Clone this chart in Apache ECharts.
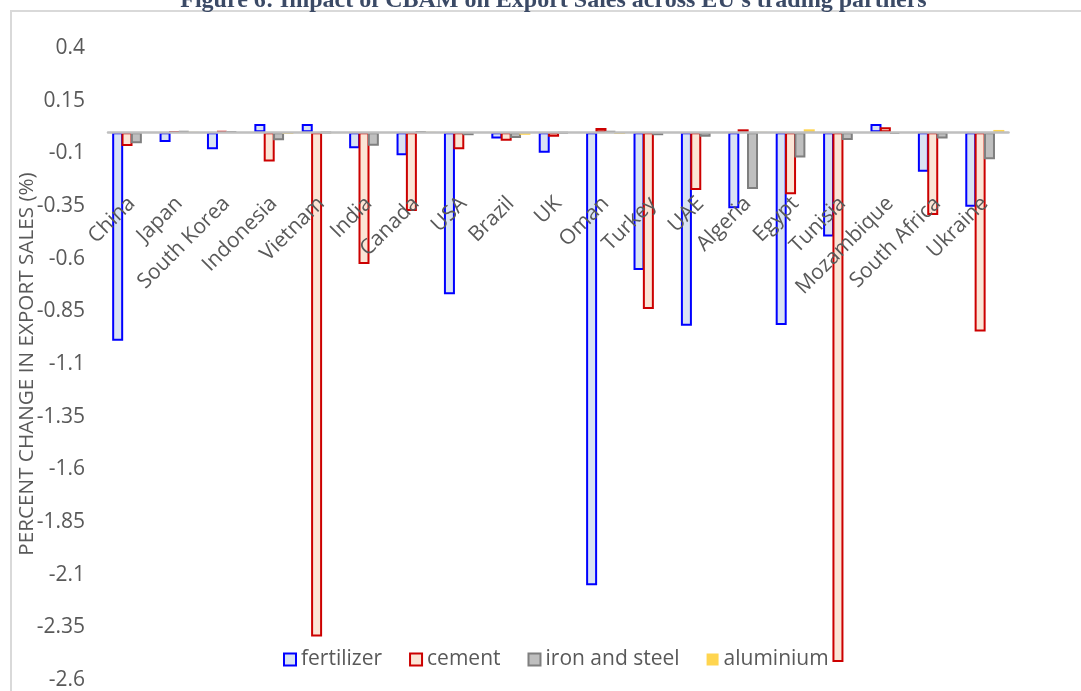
<!DOCTYPE html>
<html>
<head>
<meta charset="utf-8">
<script src="https://cdn.jsdelivr.net/npm/echarts@6/dist/echarts.min.js"></script>
<style>
html,body{margin:0;padding:0;background:#ffffff;}
#chart{width:1081px;height:691px;}
</style>
</head>
<body>
<div id="chart"></div>
<script>
// ---- data ----
const categories = ['China','Japan','South Korea','Indonesia','Vietnam','India','Canada','USA','Brazil','UK','Oman','Turkey','UAE','Algeria','Egypt','Tunisia','Mozambique','South Africa','Ukraine'];
const seriesNames = ['fertilizer','cement','iron and steel','aluminium'];
const fertilizer = [-0.99, -0.046, -0.081, 0.039, 0.039, -0.076, -0.109, -0.769, -0.03, -0.097, -2.15, -0.654, -0.919, -0.361, -0.915, -0.495, 0.039, -0.187, -0.353];
const cement = [-0.065, 0.002, 0.006, -0.139, -2.394, -0.625, -0.374, -0.081, -0.04, -0.021, 0.02, -0.839, -0.274, 0.014, -0.294, -2.514, 0.024, -0.393, -0.946];
const ironSteel = [-0.052, 0.005, 0.003, -0.038, -0.002, -0.064, 0.003, -0.014, -0.027, -0.004, 0.004, -0.014, -0.021, -0.269, -0.12, -0.037, -0.008, -0.029, -0.128];
const aluminium = [-0.003, 0.002, 0.001, -0.008, -0.004, -0.002, 0.002, -0.002, -0.012, -0.002, -0.008, -0.002, -0.002, 0.002, 0.014, -0.002, -0.002, -0.002, 0.011];
const yTickLabels = ['0.4','0.15','-0.1','-0.35','-0.6','-0.85','-1.1','-1.35','-1.6','-1.85','-2.1','-2.35','-2.6'];
const yMin = -2.6, yMax = 0.4, yStep = 0.25;
const titleText = "Figure 6: Impact of CBAM on Export Sales across EU's trading partners";
const yAxisTitle = 'PERCENT CHANGE IN EXPORT SALES (%)';

// ---- chart ----
const FONT = '"Open Sans", "Liberation Sans", sans-serif';
const TXT = '#595959';
const FS = 21;
const W = 1081, H = 691;
const GRID = {left: 108, right: 72.5, top: 48, bottom: 11};
const chart = echarts.init(document.getElementById('chart'), null, {renderer: 'canvas'});

function labelFor(v) {
  const idx = Math.round((yMax - v) / yStep);
  return yTickLabels[idx] !== undefined ? yTickLabels[idx] : String(Math.round(v * 100) / 100);
}

// category labels sit just below the zero line (Excel "next to axis");
// ECharts anchors them to the grid bottom, so shift them up by the zero-line distance
const plotH = H - GRID.top - GRID.bottom;
const zeroFromBottom = plotH * (0 - yMin) / (yMax - yMin);
const catLabelMargin = 68 - zeroFromBottom;

const styles = [
  {color: '#dae3f3', borderColor: '#0000ff', borderWidth: 2},
  {color: '#fbe5d6', borderColor: '#cc0000', borderWidth: 2},
  {color: '#bfbfbf', borderColor: '#7f7f7f', borderWidth: 2},
  {color: '#ffd54f', borderColor: '#ffd54f', borderWidth: 0}
];
const dataSets = [fertilizer, cement, ironSteel, aluminium];

const option = {
  animation: false,
  backgroundColor: '#ffffff',
  grid: Object.assign({containLabel: false, outerBoundsMode: 'none'}, GRID),
  legend: {
    left: 283, top: 649, padding: 0,
    icon: 'rect', itemWidth: 12, itemHeight: 12, itemGap: 27,
    textStyle: {fontFamily: FONT, fontSize: FS, color: TXT},
    data: seriesNames
  },
  xAxis: {
    type: 'category',
    data: categories,
    z: 10,
    axisLine: {show: true, onZero: true, lineStyle: {color: '#bfbfbf', width: 2.5}},
    axisTick: {show: false},
    splitLine: {show: false},
    axisLabel: {interval: 0, rotate: 45, margin: catLabelMargin, fontFamily: FONT, fontSize: FS, color: TXT}
  },
  yAxis: {
    type: 'value',
    min: yMin, max: yMax, interval: yStep,
    axisLine: {show: false},
    axisTick: {show: false},
    splitLine: {show: false},
    axisLabel: {margin: 23, fontFamily: FONT, fontSize: FS, color: TXT, formatter: labelFor},
    name: yAxisTitle,
    nameLocation: 'middle',
    nameGap: 70,
    nameMoveOverlap: false,
    nameTextStyle: {fontFamily: FONT, fontSize: 20.7, color: TXT}
  },
  series: seriesNames.map((n, i) => ({
    name: n,
    type: 'bar',
    data: dataSets[i],
    barWidth: 11,
    barGap: '-15%',
    itemStyle: styles[i]
  })),
  graphic: [
    {type: 'rect', silent: true, z: -10,
     shape: {x: 11, y: 11, width: 1300, height: 900},
     style: {fill: 'none', stroke: '#d9d9d9', lineWidth: 2}},
    {type: 'text', silent: true, x: 553.5, y: 1,
     style: {text: titleText, font: 'bold 24px "Liberation Serif", "Times New Roman", serif', fill: '#3b4a66', align: 'center', verticalAlign: 'middle'}}
  ]
};
chart.setOption(option);
</script>
</body>
</html>
